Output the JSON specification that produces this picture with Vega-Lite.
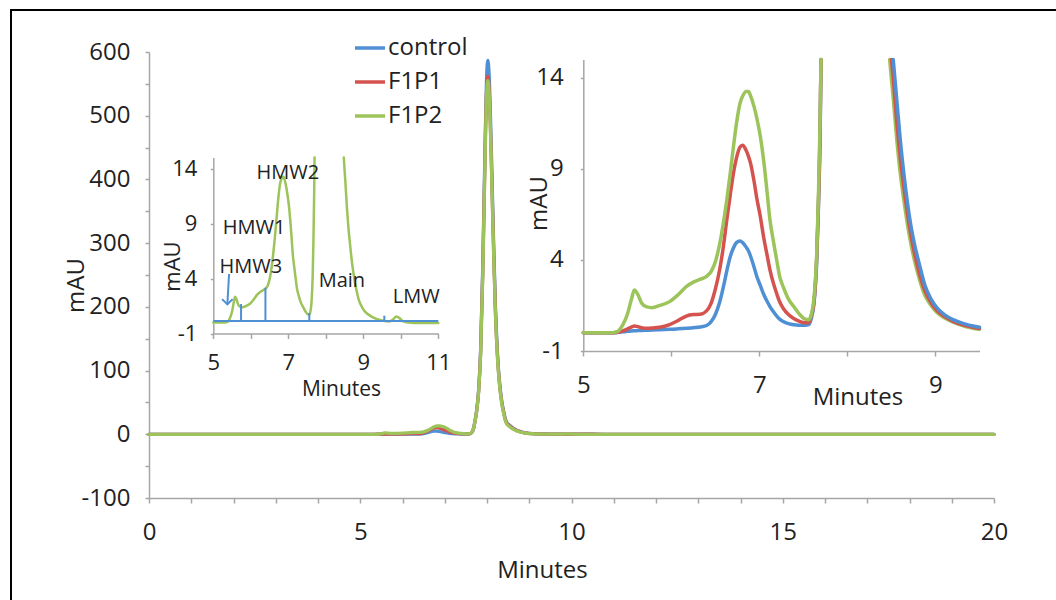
{
  "$schema": "https://vega.github.io/schema/vega-lite/v6.json",
  "width": 845,
  "height": 446,
  "autosize": {"type": "none"},
  "padding": {"left": 149, "top": 52, "right": 62, "bottom": 102},
  "background": "white",
  "config": {
    "font": "Open Sans",
    "view": {"stroke": null},
    "axis": {"domainColor": "#a6a6a6", "tickColor": "#a6a6a6", "domainWidth": 1.5, "tickWidth": 1.5, "labelColor": "#222", "titleColor": "#222", "titleFontWeight": "normal", "grid": false, "labelFlush": false, "labelOverlap": false, "labelFont": "Open Sans", "titleFont": "Open Sans"},
    "line": {"strokeJoin": "round", "strokeCap": "round", "interpolate": "monotone"}
  },
  "datasets": {
    "chrom": [
      {"t": 0, "control": 0, "F1P1": 0, "F1P2": 0},
      {"t": 1, "control": 0, "F1P1": 0, "F1P2": 0},
      {"t": 2, "control": 0, "F1P1": 0, "F1P2": 0},
      {"t": 3, "control": 0, "F1P1": 0, "F1P2": 0},
      {"t": 4, "control": 0, "F1P1": 0, "F1P2": 0},
      {"t": 5, "control": 0, "F1P1": 0, "F1P2": 0},
      {"t": 5.3, "control": 0, "F1P1": 0, "F1P2": 0},
      {"t": 5.38, "control": 0.01, "F1P1": 0.02, "F1P2": 0.05},
      {"t": 5.45, "control": 0.05, "F1P1": 0.1, "F1P2": 0.45},
      {"t": 5.5, "control": 0.08, "F1P1": 0.2, "F1P2": 1.0},
      {"t": 5.55, "control": 0.1, "F1P1": 0.32, "F1P2": 1.9},
      {"t": 5.58, "control": 0.11, "F1P1": 0.37, "F1P2": 2.35},
      {"t": 5.62, "control": 0.12, "F1P1": 0.34, "F1P2": 2.1},
      {"t": 5.66, "control": 0.13, "F1P1": 0.28, "F1P2": 1.65},
      {"t": 5.72, "control": 0.14, "F1P1": 0.25, "F1P2": 1.42},
      {"t": 5.78, "control": 0.15, "F1P1": 0.26, "F1P2": 1.38},
      {"t": 5.87, "control": 0.17, "F1P1": 0.3, "F1P2": 1.5},
      {"t": 5.98, "control": 0.19, "F1P1": 0.45, "F1P2": 1.71},
      {"t": 6.08, "control": 0.22, "F1P1": 0.68, "F1P2": 2.1},
      {"t": 6.17, "control": 0.25, "F1P1": 0.92, "F1P2": 2.53},
      {"t": 6.25, "control": 0.28, "F1P1": 1.0, "F1P2": 2.78},
      {"t": 6.33, "control": 0.32, "F1P1": 1.02, "F1P2": 2.94},
      {"t": 6.4, "control": 0.4, "F1P1": 1.2, "F1P2": 3.1},
      {"t": 6.45, "control": 0.6, "F1P1": 1.6, "F1P2": 3.35},
      {"t": 6.5, "control": 1.0, "F1P1": 2.4, "F1P2": 3.9},
      {"t": 6.55, "control": 1.7, "F1P1": 3.5, "F1P2": 4.9},
      {"t": 6.59, "control": 2.5, "F1P1": 4.7, "F1P2": 6.0},
      {"t": 6.63, "control": 3.4, "F1P1": 6.2, "F1P2": 7.3},
      {"t": 6.67, "control": 4.2, "F1P1": 7.6, "F1P2": 8.8},
      {"t": 6.7, "control": 4.6, "F1P1": 8.6, "F1P2": 10.0},
      {"t": 6.74, "control": 4.95, "F1P1": 9.6, "F1P2": 11.5},
      {"t": 6.78, "control": 5.04, "F1P1": 10.2, "F1P2": 12.6},
      {"t": 6.81, "control": 4.95, "F1P1": 10.3, "F1P2": 13.0},
      {"t": 6.85, "control": 4.7, "F1P1": 10.0, "F1P2": 13.25},
      {"t": 6.875, "control": 4.5, "F1P1": 9.7, "F1P2": 13.25},
      {"t": 6.9, "control": 4.2, "F1P1": 9.3, "F1P2": 13.0},
      {"t": 6.94, "control": 3.6, "F1P1": 8.3, "F1P2": 12.4},
      {"t": 6.97, "control": 3.1, "F1P1": 7.4, "F1P2": 11.8},
      {"t": 7.01, "control": 2.6, "F1P1": 6.4, "F1P2": 10.8},
      {"t": 7.05, "control": 2.1, "F1P1": 5.2, "F1P2": 9.4},
      {"t": 7.09, "control": 1.7, "F1P1": 4.2, "F1P2": 7.6},
      {"t": 7.12, "control": 1.44, "F1P1": 3.45, "F1P2": 6.2},
      {"t": 7.16, "control": 1.15, "F1P1": 2.7, "F1P2": 5.0},
      {"t": 7.2, "control": 0.9, "F1P1": 2.1, "F1P2": 3.9},
      {"t": 7.23, "control": 0.75, "F1P1": 1.7, "F1P2": 3.1},
      {"t": 7.27, "control": 0.62, "F1P1": 1.35, "F1P2": 2.53},
      {"t": 7.33, "control": 0.5, "F1P1": 1.0, "F1P2": 1.85},
      {"t": 7.39, "control": 0.44, "F1P1": 0.78, "F1P2": 1.44},
      {"t": 7.45, "control": 0.42, "F1P1": 0.64, "F1P2": 1.05},
      {"t": 7.52, "control": 0.42, "F1P1": 0.55, "F1P2": 0.75},
      {"t": 7.56, "control": 0.45, "F1P1": 0.55, "F1P2": 0.72},
      {"t": 7.59, "control": 0.8, "F1P1": 0.95, "F1P2": 1.0},
      {"t": 7.62, "control": 1.6, "F1P1": 1.7, "F1P2": 1.9},
      {"t": 7.65, "control": 3.8, "F1P1": 4.0, "F1P2": 4.2},
      {"t": 7.67, "control": 6.8, "F1P1": 7.0, "F1P2": 7.4},
      {"t": 7.69, "control": 11, "F1P1": 11.3, "F1P2": 11.8},
      {"t": 7.7, "control": 15, "F1P1": 15, "F1P2": 15},
      {"t": 7.72, "control": 22, "F1P1": 22, "F1P2": 22},
      {"t": 7.75, "control": 35, "F1P1": 34, "F1P2": 34},
      {"t": 7.8, "control": 68, "F1P1": 66, "F1P2": 65},
      {"t": 7.85, "control": 135, "F1P1": 130, "F1P2": 128},
      {"t": 7.9, "control": 265, "F1P1": 255, "F1P2": 252},
      {"t": 7.95, "control": 440, "F1P1": 425, "F1P2": 420},
      {"t": 7.99, "control": 560, "F1P1": 540, "F1P2": 533},
      {"t": 8.02, "control": 587, "F1P1": 562, "F1P2": 555},
      {"t": 8.05, "control": 565, "F1P1": 542, "F1P2": 536},
      {"t": 8.08, "control": 505, "F1P1": 485, "F1P2": 480},
      {"t": 8.12, "control": 400, "F1P1": 385, "F1P2": 380},
      {"t": 8.16, "control": 292, "F1P1": 281, "F1P2": 277},
      {"t": 8.2, "control": 200, "F1P1": 192, "F1P2": 189},
      {"t": 8.25, "control": 125, "F1P1": 120, "F1P2": 118},
      {"t": 8.3, "control": 80, "F1P1": 77, "F1P2": 75},
      {"t": 8.35, "control": 52, "F1P1": 50, "F1P2": 48},
      {"t": 8.4, "control": 34, "F1P1": 32.5, "F1P2": 31},
      {"t": 8.45, "control": 21, "F1P1": 19.8, "F1P2": 18.5},
      {"t": 8.48, "control": 17.2, "F1P1": 16.2, "F1P2": 15},
      {"t": 8.5, "control": 16.1, "F1P1": 15, "F1P2": 13.9},
      {"t": 8.52, "control": 15, "F1P1": 14.0, "F1P2": 12.9},
      {"t": 8.56, "control": 12.8, "F1P1": 11.6, "F1P2": 10.6},
      {"t": 8.6, "control": 10.6, "F1P1": 9.6, "F1P2": 8.76},
      {"t": 8.64, "control": 8.76, "F1P1": 8.0, "F1P2": 7.3},
      {"t": 8.68, "control": 7.2, "F1P1": 6.6, "F1P2": 6.0},
      {"t": 8.72, "control": 5.9, "F1P1": 5.4, "F1P2": 4.9},
      {"t": 8.76, "control": 4.9, "F1P1": 4.4, "F1P2": 4.0},
      {"t": 8.82, "control": 3.7, "F1P1": 3.2, "F1P2": 2.9},
      {"t": 8.88, "control": 2.6, "F1P1": 2.3, "F1P2": 2.05},
      {"t": 8.95, "control": 1.85, "F1P1": 1.65, "F1P2": 1.5},
      {"t": 9.02, "control": 1.35, "F1P1": 1.2, "F1P2": 1.1},
      {"t": 9.1, "control": 1.0, "F1P1": 0.9, "F1P2": 0.82},
      {"t": 9.2, "control": 0.72, "F1P1": 0.63, "F1P2": 0.58},
      {"t": 9.35, "control": 0.46, "F1P1": 0.38, "F1P2": 0.33},
      {"t": 9.5, "control": 0.3, "F1P1": 0.24, "F1P2": 0.19},
      {"t": 9.7, "control": 0.2, "F1P1": 0.15, "F1P2": 0.1},
      {"t": 9.8, "control": 0.15, "F1P1": 0.12, "F1P2": 0.3},
      {"t": 9.88, "control": 0.12, "F1P1": 0.1, "F1P2": 0.55},
      {"t": 9.96, "control": 0.1, "F1P1": 0.08, "F1P2": 0.42},
      {"t": 10.05, "control": 0.08, "F1P1": 0.06, "F1P2": 0.12},
      {"t": 10.2, "control": 0.05, "F1P1": 0.04, "F1P2": 0},
      {"t": 10.5, "control": 0.02, "F1P1": 0.02, "F1P2": -0.05},
      {"t": 11, "control": 0, "F1P1": 0, "F1P2": -0.05},
      {"t": 12, "control": 0, "F1P1": 0, "F1P2": 0},
      {"t": 14, "control": 0, "F1P1": 0, "F1P2": 0},
      {"t": 16, "control": 0, "F1P1": 0, "F1P2": 0},
      {"t": 18, "control": 0, "F1P1": 0, "F1P2": 0},
      {"t": 20, "control": 0, "F1P1": 0, "F1P2": 0}
    ],
    "cuts": [
      {"t": 5.74, "v": 1.68},
      {"t": 6.39, "v": 3.16},
      {"t": 7.56, "v": 0.86},
      {"t": 9.56, "v": 0.62}
    ],
    "base": [{"t1": 5, "t2": 11, "v": 0.14}],
    "arrow": [{"t1": 5.42, "v1": 4.41, "t2": 5.375, "v2": 1.65}],
    "peaks": [
      {"label": "HMW2", "t": 6.99, "v": 13.6},
      {"label": "HMW1", "t": 6.09, "v": 8.59},
      {"label": "HMW3", "t": 6.0, "v": 5.05},
      {"label": "Main", "t": 8.43, "v": 3.77},
      {"label": "LMW", "t": 10.41, "v": 2.32}
    ]
  },
  "resolve": {
    "scale": {"x": "independent", "y": "independent"},
    "axis": {"x": "independent", "y": "independent"}
  },
  "layer": [
    {
      "data": {"values": [{}]},
      "mark": {"type": "rect", "filled": false, "stroke": "#000000", "strokeWidth": 2},
      "encoding": {
        "x": {"datum": -3.266, "type": "quantitative", "scale": {"domain": [0, 20], "nice": false, "zero": false}, "axis": null},
        "x2": {"datum": 22},
        "y": {"datum": 666, "type": "quantitative", "scale": {"domain": [-100, 600], "nice": false, "zero": false}, "axis": null},
        "y2": {"datum": -300}
      }
    },
    {
      "data": {"name": "chrom"},
      "transform": [{"fold": ["control", "F1P1", "F1P2"], "as": ["s", "v"]}],
      "mark": {"type": "line", "strokeWidth": 3.3},
      "encoding": {
        "x": {"field": "t", "type": "quantitative", "scale": {"domain": [0, 20], "nice": false, "zero": false},
          "axis": {"orient": "bottom", "title": "Minutes", "values": [0,1,2,3,4,5,6,7,8,9,10,11,12,13,14,15,16,17,18,19,20], "labelExpr": "datum.value % 5 === 0 ? '' + datum.value : ''", "tickSize": 5, "labelPadding": 17, "labelFontSize": 24, "titleFontSize": 24, "titleX": 393, "titleY": 72, "titleBaseline": "middle", "titleAlign": "center"}},
        "y": {"field": "v", "type": "quantitative", "scale": {"domain": [-100, 600], "nice": false, "zero": false},
          "axis": {"orient": "left", "title": "mAU", "values": [-100,-50,0,50,100,150,200,250,300,350,400,450,500,550,600], "labelExpr": "datum.value % 100 === 0 ? '' + datum.value : ''", "tickSize": 4, "labelPadding": 15, "labelFontSize": 24, "titleFontSize": 24, "titleX": -73, "titleY": 233, "titleAngle": -90, "titleBaseline": "middle", "titleAlign": "center"}},
        "color": {"field": "s", "type": "nominal",
          "scale": {"domain": ["control", "F1P1", "F1P2"], "range": ["#4f8fd4", "#d4534f", "#9cc45a"]},
          "legend": {"orient": "none", "legendX": 204, "legendY": -21, "title": null, "symbolType": "stroke", "symbolSize": 900, "symbolStrokeWidth": 4, "labelFontSize": 24, "labelFont": "Open Sans", "labelColor": "#222", "rowPadding": 5, "labelOffset": 1, "padding": 0}}
      }
    },
    {
      "layer": [
        {
          "data": {"name": "chrom"},
          "transform": [{"fold": ["control", "F1P1", "F1P2"], "as": ["s", "v"]}, {"filter": "datum.s === 'F1P2' && datum.t >= 5 && datum.t <= 7.8 && datum.v <= 15"}],
          "mark": {"type": "line", "strokeWidth": 2.5, "color": "#9cc45a"},
          "encoding": {
            "x": {"field": "t", "type": "quantitative", "scale": {"domain": [5, 11], "range": [64.3, 289.3], "nice": false, "zero": false},
              "axis": {"orient": "bottom", "offset": -164.5, "title": "Minutes", "values": [5,6,7,8,9,10,11], "labelExpr": "datum.value % 2 === 1 ? '' + datum.value : ''", "tickSize": 5, "labelPadding": 13.5, "labelFontSize": 22, "titleFontSize": 21, "titleX": 192, "titleY": 56, "titleBaseline": "middle", "titleAlign": "center"}},
            "y": {"field": "v", "type": "quantitative", "scale": {"domain": [-1, 15], "range": [281.5, 105.5], "nice": false, "zero": false},
              "axis": {"orient": "left", "offset": -64.3, "title": "mAU", "values": [-1, 4, 9, 14], "labelExpr": "'' + datum.value", "tickSize": 3, "labelPadding": 13.5, "labelFontSize": 22, "titleFontSize": 22, "titleX": -41.3, "titleY": 214, "titleAngle": -90, "titleBaseline": "middle", "titleAlign": "center"}}
          }
        },
        {
          "data": {"name": "chrom"},
          "transform": [{"fold": ["control", "F1P1", "F1P2"], "as": ["s", "v"]}, {"filter": "datum.s === 'F1P2' && datum.t >= 8.2 && datum.t <= 11 && datum.v <= 15"}],
          "mark": {"type": "line", "strokeWidth": 2.5, "color": "#9cc45a"},
          "encoding": {
            "x": {"field": "t", "type": "quantitative", "scale": {"domain": [5, 11], "range": [64.3, 289.3], "nice": false, "zero": false}},
            "y": {"field": "v", "type": "quantitative", "scale": {"domain": [-1, 15], "range": [281.5, 105.5], "nice": false, "zero": false}}
          }
        },
        {
          "data": {"name": "base"},
          "mark": {"type": "rule", "strokeWidth": 2, "color": "#4f8fd4"},
          "encoding": {
            "x": {"field": "t1", "type": "quantitative", "scale": {"domain": [5, 11], "range": [64.3, 289.3], "nice": false, "zero": false}},
            "x2": {"field": "t2"},
            "y": {"field": "v", "type": "quantitative", "scale": {"domain": [-1, 15], "range": [281.5, 105.5], "nice": false, "zero": false}}
          }
        },
        {
          "data": {"name": "cuts"},
          "mark": {"type": "rule", "strokeWidth": 2, "color": "#4f8fd4"},
          "encoding": {
            "x": {"field": "t", "type": "quantitative", "scale": {"domain": [5, 11], "range": [64.3, 289.3], "nice": false, "zero": false}},
            "y": {"field": "v", "type": "quantitative", "scale": {"domain": [-1, 15], "range": [281.5, 105.5], "nice": false, "zero": false}},
            "y2": {"datum": 0.14}
          }
        },
        {
          "data": {"name": "arrow"},
          "mark": {"type": "rule", "strokeWidth": 2, "color": "#4f8fd4"},
          "encoding": {
            "x": {"field": "t1", "type": "quantitative", "scale": {"domain": [5, 11], "range": [64.3, 289.3], "nice": false, "zero": false}},
            "x2": {"field": "t2"},
            "y": {"field": "v1", "type": "quantitative", "scale": {"domain": [-1, 15], "range": [281.5, 105.5], "nice": false, "zero": false}},
            "y2": {"field": "v2"}
          }
        },
        {
          "data": {"name": "arrow"},
          "mark": {"type": "point", "shape": "M-1,-1L0,0L1,-1", "filled": false, "size": 110, "strokeWidth": 2, "color": "#4f8fd4", "opacity": 1},
          "encoding": {
            "x": {"field": "t2", "type": "quantitative", "scale": {"domain": [5, 11], "range": [64.3, 289.3], "nice": false, "zero": false}},
            "y": {"field": "v2", "type": "quantitative", "scale": {"domain": [-1, 15], "range": [281.5, 105.5], "nice": false, "zero": false}}
          }
        },
        {
          "data": {"name": "peaks"},
          "mark": {"type": "text", "fontSize": 20, "font": "Open Sans", "color": "#222", "align": "center", "baseline": "middle"},
          "encoding": {
            "x": {"field": "t", "type": "quantitative", "scale": {"domain": [5, 11], "range": [64.3, 289.3], "nice": false, "zero": false}},
            "y": {"field": "v", "type": "quantitative", "scale": {"domain": [-1, 15], "range": [281.5, 105.5], "nice": false, "zero": false}},
            "text": {"field": "label"}
          }
        }
      ]
    },
    {
      "layer": [
        {
          "data": {"name": "chrom"},
          "transform": [{"fold": ["control", "F1P1", "F1P2"], "as": ["s", "v"]}, {"filter": "datum.t >= 5 && datum.t <= 7.8 && datum.v <= 15"}],
          "mark": {"type": "line"},
          "encoding": {
            "x": {"field": "t", "type": "quantitative", "scale": {"domain": [5, 9.5], "range": [434.3, 830.5], "nice": false, "zero": false},
              "axis": {"orient": "bottom", "offset": -147, "title": "Minutes", "values": [5,6,7,8,9], "labelExpr": "datum.value % 2 === 1 ? '' + datum.value : ''", "tickSize": 5, "labelPadding": 17, "labelFontSize": 24, "titleFontSize": 24, "titleX": 708.5, "titleY": 46.5, "titleBaseline": "middle", "titleAlign": "center"}},
            "y": {"field": "v", "type": "quantitative", "scale": {"domain": [-1, 15], "range": [299, 7.5], "nice": false, "zero": false},
              "axis": {"orient": "left", "offset": -434.3, "title": "mAU", "values": [-1, 4, 9, 14], "labelExpr": "'' + datum.value", "tickSize": 3, "labelPadding": 17, "labelFontSize": 24, "titleFontSize": 24, "titleX": -44.3, "titleY": 151, "titleAngle": -90, "titleBaseline": "middle", "titleAlign": "center"}},
            "color": {"field": "s", "type": "nominal", "scale": {"domain": ["control", "F1P1", "F1P2"], "range": ["#4f8fd4", "#d4534f", "#9cc45a"]}},
            "strokeWidth": {"field": "s", "type": "nominal", "scale": {"domain": ["control", "F1P1", "F1P2"], "range": [3.5, 3.5, 2.5]}, "legend": null}
          }
        },
        {
          "data": {"name": "chrom"},
          "transform": [{"fold": ["control", "F1P1", "F1P2"], "as": ["s", "v"]}, {"filter": "datum.t >= 8.2 && datum.t <= 9.5 && datum.v <= 15"}],
          "mark": {"type": "line"},
          "encoding": {
            "x": {"field": "t", "type": "quantitative", "scale": {"domain": [5, 9.5], "range": [434.3, 830.5], "nice": false, "zero": false}},
            "y": {"field": "v", "type": "quantitative", "scale": {"domain": [-1, 15], "range": [299, 7.5], "nice": false, "zero": false}},
            "color": {"field": "s", "type": "nominal", "scale": {"domain": ["control", "F1P1", "F1P2"], "range": ["#4f8fd4", "#d4534f", "#9cc45a"]}},
            "strokeWidth": {"field": "s", "type": "nominal", "scale": {"domain": ["control", "F1P1", "F1P2"], "range": [3.5, 3.5, 2.5]}, "legend": null}
          }
        }
      ]
    }
  ]
}
